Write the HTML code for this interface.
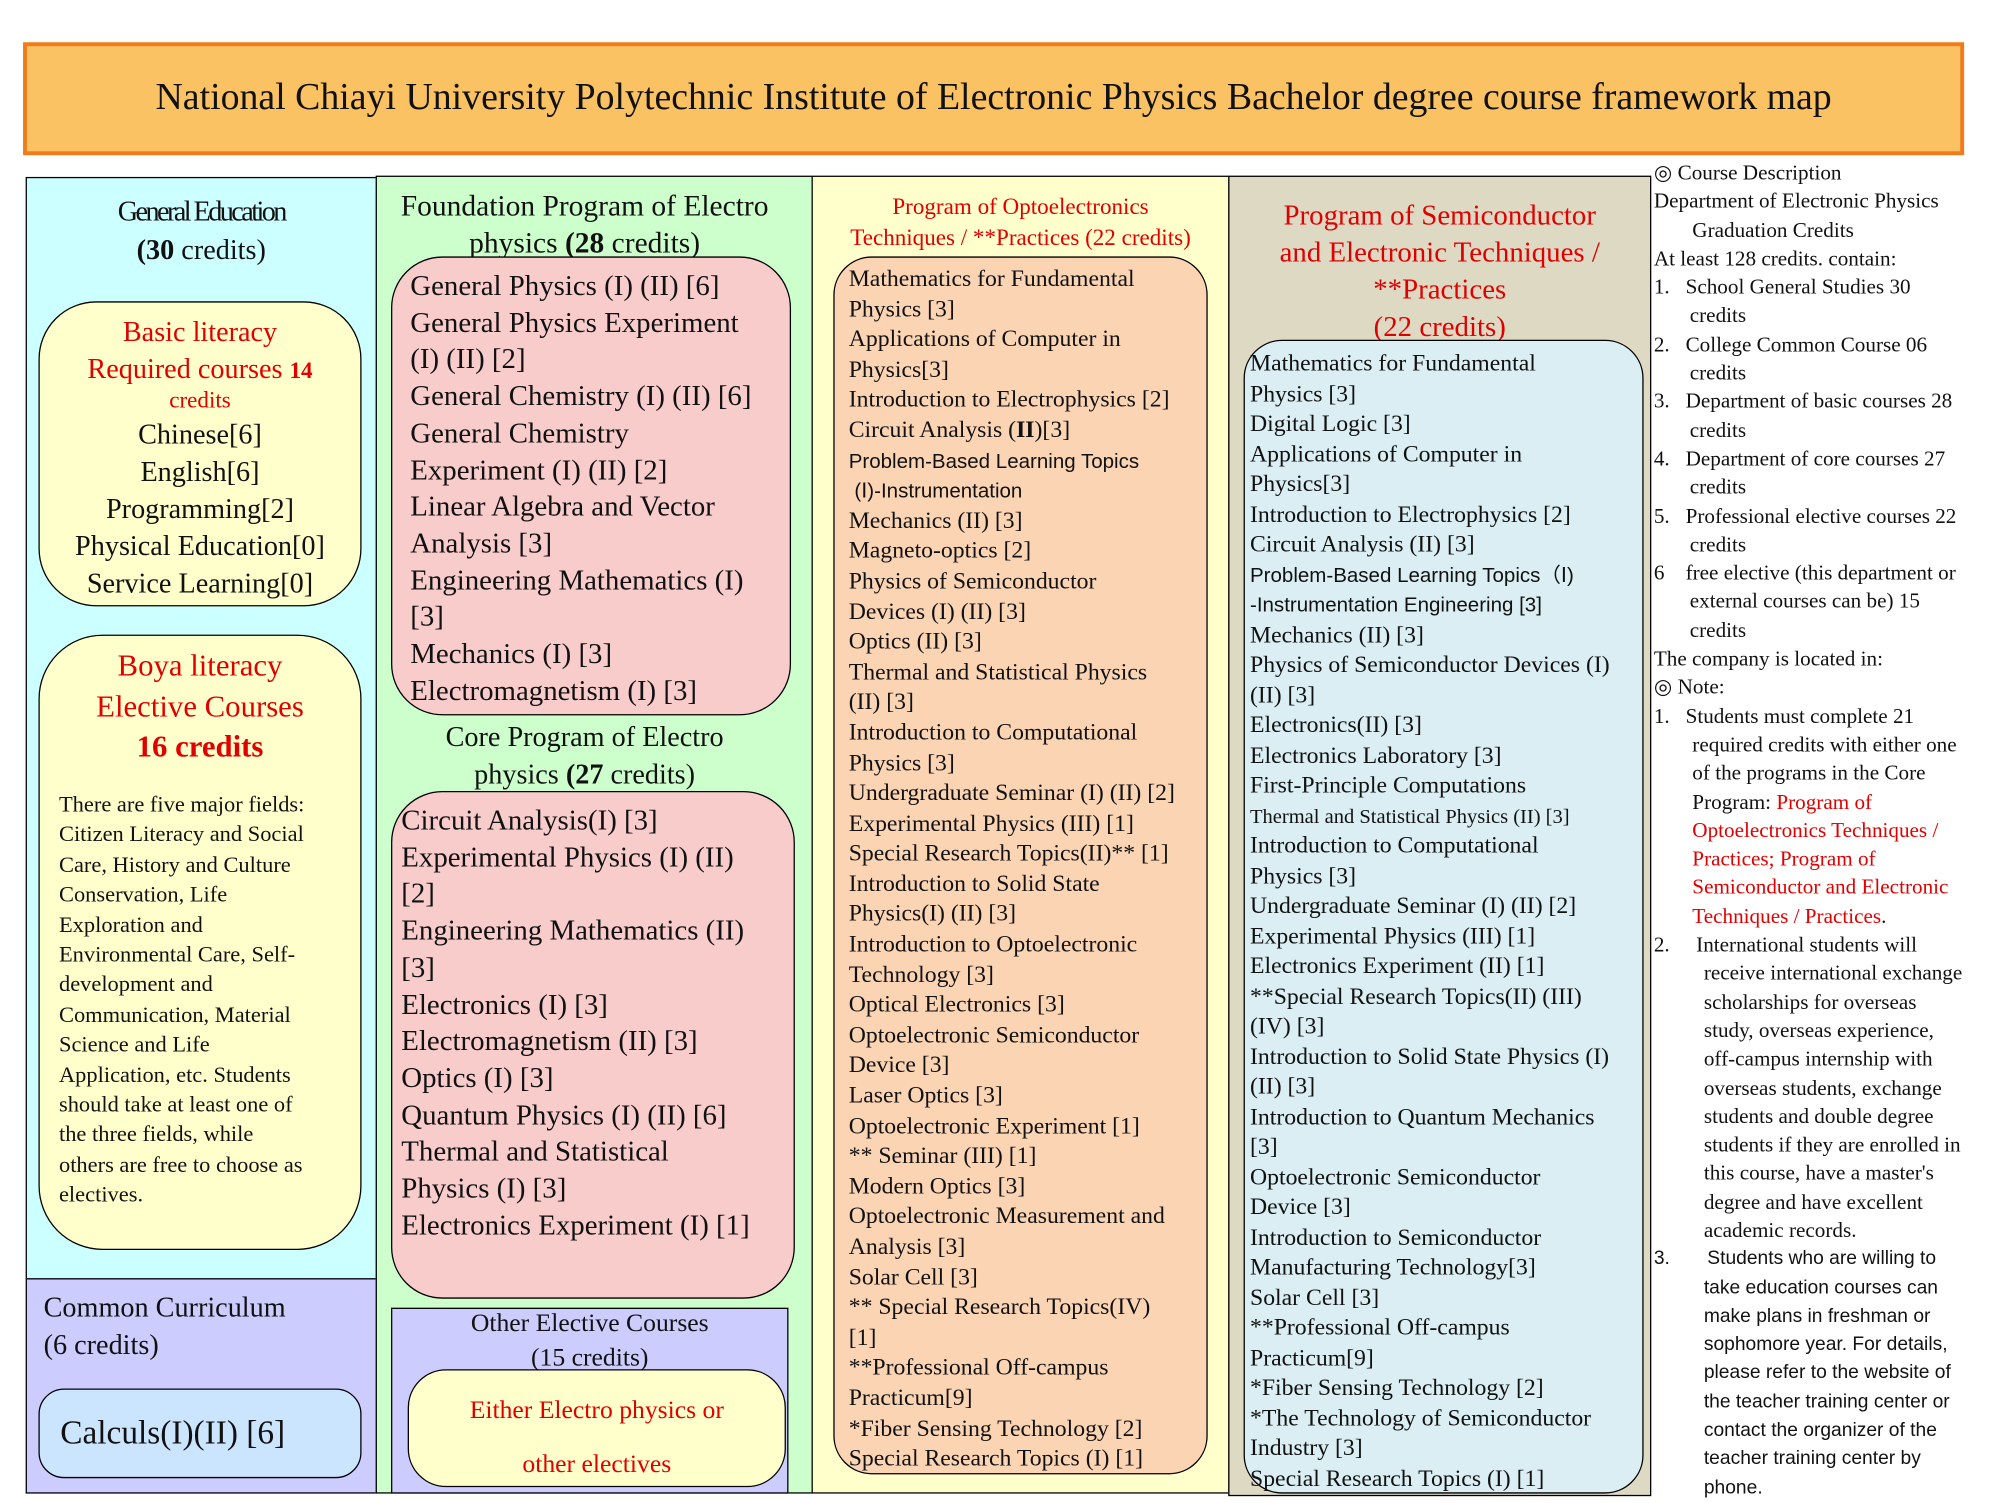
<!DOCTYPE html>
<html><head><meta charset="utf-8"><style>
*{margin:0;padding:0;box-sizing:border-box}
body{width:2000px;height:1500px;background:#fff;overflow:hidden;font-family:"Liberation Serif",serif;color:#111}
#w{position:absolute;left:0;top:0;width:1560px;height:1170px;transform:scale(1.28205);transform-origin:0 0}
.a{position:absolute}
.r{color:#e00000}
.l{white-space:nowrap}
.sans{font-family:"Liberation Sans",sans-serif}
</style></head><body><div id="w">
<div class="a" style="left:18px;top:33px;width:1514px;height:88px;background:#fac262;border:3px solid #f07a1c;font-size:29.5px;text-align:center;line-height:80px">National Chiayi University Polytechnic Institute of Electronic Physics Bachelor degree course framework map</div>

<div class="a" style="left:20px;top:138px;width:274px;height:860px;background:#ccffff;border:1.5px solid #000"></div>
<div class="a" style="left:20px;top:997px;width:274px;height:168px;background:#ccccff;border:1.5px solid #000"></div>
<div class="a" style="left:293px;top:137px;width:341px;height:1028px;background:#ccffcc;border:1.5px solid #000"></div>
<div class="a" style="left:633px;top:137px;width:326px;height:1028px;background:#ffffcc;border:1.5px solid #000"></div>
<div class="a" style="left:958px;top:137px;width:330px;height:1030px;background:#ddd9c3;border:1.5px solid #000"></div>

<div class="a" style="left:20px;top:150px;width:274px;text-align:center;font-size:22px;line-height:30px"><span style="letter-spacing:-2px">General Education</span><br><b>(30</b> credits)</div>
<div class="a" style="left:30px;top:235px;width:252px;height:238px;background:#ffffcc;border:1.5px solid #000;border-radius:45px"></div>
<div class="a l" style="left:30px;top:244px;width:252px;text-align:center;font-size:22px;line-height:29px">
<div class="r" style="height:29px">Basic literacy</div>
<div class="r" style="height:27px">Required courses <b style="font-size:18px">14</b></div>
<div class="r" style="font-size:18px;line-height:24px;height:24px">credits</div>
<div>Chinese[6]</div><div>English[6]</div><div>Programming[2]</div><div>Physical Education[0]</div><div>Service Learning[0]</div></div>
<div class="a" style="left:30px;top:495px;width:252px;height:480px;background:#ffffcc;border:1.5px solid #000;border-radius:50px"></div>
<div class="a l r" style="left:30px;top:505px;width:252px;text-align:center;font-size:24px;line-height:31.5px">Boya literacy<br>Elective Courses<br><b>16 credits</b></div>
<div class="a l" style="left:46px;top:616px;font-size:17.5px;line-height:23.4px">There are five major fields:<br>Citizen Literacy and Social<br>Care, History and Culture<br>Conservation, Life<br>Exploration and<br>Environmental Care, Self-<br>development and<br>Communication, Material<br>Science and Life<br>Application, etc. Students<br>should take at least one of<br>the three fields, while<br>others are free to choose as<br>electives.</div>
<div class="a l" style="left:34px;top:1005px;font-size:22px;line-height:29px">Common Curriculum<br>(6 credits)</div>
<div class="a" style="left:30px;top:1083px;width:252px;height:70px;background:#cce5ff;border:1.5px solid #000;border-radius:20px;font-size:26px;line-height:68px;padding-left:16px">Calculs(I)(II) [6]</div>

<div class="a l" style="left:293px;top:146px;width:326px;text-align:center;font-size:23px;line-height:29px">Foundation Program of Electro<br>physics <b>(28</b> credits)</div>
<div class="a" style="left:305px;top:200px;width:312px;height:358px;background:#f9cccc;border:1.5px solid #000;border-radius:40px"></div>
<div class="a l" style="left:320px;top:209px;font-size:22.5px;line-height:28.7px">General Physics (I) (II) [6]<br>General Physics Experiment<br>(I) (II) [2]<br>General Chemistry (I) (II) [6]<br>General Chemistry<br>Experiment (I) (II) [2]<br>Linear Algebra and Vector<br>Analysis [3]<br>Engineering Mathematics (I)<br>[3]<br>Mechanics (I) [3]<br>Electromagnetism (I) [3]</div>
<div class="a l" style="left:293px;top:560px;width:326px;text-align:center;font-size:22px;line-height:29px">Core Program of Electro<br>physics <b>(27</b> credits)</div>
<div class="a" style="left:305px;top:617px;width:315px;height:396px;background:#f9cccc;border:1.5px solid #000;border-radius:40px"></div>
<div class="a l" style="left:313px;top:626px;font-size:22.5px;line-height:28.7px">Circuit Analysis(I) [3]<br>Experimental Physics (I) (II)<br>[2]<br>Engineering Mathematics (II)<br>[3]<br>Electronics (I) [3]<br>Electromagnetism (II) [3]<br>Optics (I) [3]<br>Quantum Physics (I) (II) [6]<br>Thermal and Statistical<br>Physics (I) [3]<br>Electronics Experiment (I) [1]</div>
<div class="a" style="left:305px;top:1020px;width:310px;height:145px;background:#ccccff;border:1.5px solid #000"></div>
<div class="a l" style="left:305px;top:1019px;width:310px;text-align:center;font-size:20px;line-height:27px">Other Elective Courses<br>(15 credits)</div>
<div class="a" style="left:318px;top:1068px;width:295px;height:92px;background:#ffffcc;border:1.5px solid #000;border-radius:30px"></div>
<div class="a l r" style="left:318px;top:1079px;width:295px;text-align:center;font-size:20px;line-height:42px">Either Electro physics or<br>other electives</div>

<div class="a l r" style="left:633px;top:149px;width:326px;text-align:center;font-size:18px;line-height:24px">Program of Optoelectronics<br>Techniques / **Practices (22 credits)</div>
<div class="a" style="left:650px;top:200px;width:292px;height:950px;background:#fbd4b4;border:1.5px solid #000;border-radius:30px"></div>
<div class="a l" style="left:662px;top:207px;font-size:18.5px;line-height:23.6px">Mathematics for Fundamental<br>Physics [3]<br>Applications of Computer in<br>Physics[3]<br>Introduction to Electrophysics [2]<br>Circuit Analysis (<b>II</b>)[3]<br><span class="sans" style="font-size:16px">Problem-Based Learning Topics</span><br><span class="sans" style="font-size:16px">&nbsp;(Ⅰ)-Instrumentation</span><br>Mechanics (II) [3]<br>Magneto-optics [2]<br>Physics of Semiconductor<br>Devices (I) (II) [3]<br>Optics (II) [3]<br>Thermal and Statistical Physics<br>(II) [3]<br>Introduction to Computational<br>Physics [3]<br>Undergraduate Seminar (I) (II) [2]<br>Experimental Physics (III) [1]<br>Special Research Topics(II)** [1]<br>Introduction to Solid State<br>Physics(I) (II) [3]<br>Introduction to Optoelectronic<br>Technology [3]<br>Optical Electronics [3]<br>Optoelectronic Semiconductor<br>Device [3]<br>Laser Optics [3]<br>Optoelectronic Experiment [1]<br>** Seminar (III) [1]<br>Modern Optics [3]<br>Optoelectronic Measurement and<br>Analysis [3]<br>Solar Cell [3]<br>** Special Research Topics(IV)<br>[1]<br>**Professional Off-campus<br>Practicum[9]<br>*Fiber Sensing Technology [2]<br>Special Research Topics (I) [1]</div>

<div class="a l r" style="left:958px;top:153px;width:330px;text-align:center;font-size:22.5px;line-height:29px">Program of Semiconductor<br>and Electronic Techniques /<br>**Practices<br>(22 credits)</div>
<div class="a" style="left:970px;top:265px;width:312px;height:900px;background:#daeef3;border:1.5px solid #000;border-radius:30px"></div>
<div class="a l" style="left:975px;top:273px;font-size:18.5px;line-height:23.5px">Mathematics for Fundamental<br>Physics [3]<br>Digital Logic [3]<br>Applications of Computer in<br>Physics[3]<br>Introduction to Electrophysics [2]<br>Circuit Analysis (II) [3]<br><span class="sans" style="font-size:16px">Problem-Based Learning Topics（Ⅰ)</span><br><span class="sans" style="font-size:16px">-Instrumentation Engineering [3]</span><br>Mechanics (II) [3]<br>Physics of Semiconductor Devices (I)<br>(II) [3]<br>Electronics(II) [3]<br>Electronics Laboratory [3]<br>First-Principle Computations<br><span style="font-size:16px">Thermal and Statistical Physics (II) [3]</span><br>Introduction to Computational<br>Physics [3]<br>Undergraduate Seminar (I) (II) [2]<br>Experimental Physics (III) [1]<br>Electronics Experiment (II) [1]<br>**Special Research Topics(II) (III)<br>(IV) [3]<br>Introduction to Solid State Physics (I)<br>(II) [3]<br>Introduction to Quantum Mechanics<br>[3]<br>Optoelectronic Semiconductor<br>Device [3]<br>Introduction to Semiconductor<br>Manufacturing Technology[3]<br>Solar Cell [3]<br>**Professional Off-campus<br>Practicum[9]<br>*Fiber Sensing Technology [2]<br>*The Technology of Semiconductor<br>Industry [3]<br>Special Research Topics (I) [1]</div>

<div class="a l" style="left:1290px;top:124px;font-size:16.5px;line-height:22.3px">
<div>◎ Course Description</div>
<div>Department of Electronic Physics</div>
<div style="padding-left:30px">Graduation Credits</div>
<div>At least 128 credits. contain:</div>
<div>1.&nbsp;&nbsp; School General Studies 30</div><div style="padding-left:28px">credits</div>
<div>2.&nbsp;&nbsp; College Common Course 06</div><div style="padding-left:28px">credits</div>
<div>3.&nbsp;&nbsp; Department of basic courses 28</div><div style="padding-left:28px">credits</div>
<div>4.&nbsp;&nbsp; Department of core courses 27</div><div style="padding-left:28px">credits</div>
<div>5.&nbsp;&nbsp; Professional elective courses 22</div><div style="padding-left:28px">credits</div>
<div>6&nbsp;&nbsp;&nbsp; free elective (this department or</div><div style="padding-left:28px">external courses can be) 15</div><div style="padding-left:28px">credits</div>
<div>The company is located in:</div>
<div>◎ Note:</div>
<div>1.&nbsp;&nbsp; Students must complete 21</div>
<div style="padding-left:30px">required credits with either one</div>
<div style="padding-left:30px">of the programs in the Core</div>
<div style="padding-left:30px">Program: <span class="r">Program of</span></div>
<div style="padding-left:30px" class="r">Optoelectronics Techniques /</div>
<div style="padding-left:30px" class="r">Practices; Program of</div>
<div style="padding-left:30px" class="r">Semiconductor and Electronic</div>
<div style="padding-left:30px" class="r">Techniques / Practices<span style="color:#111">.</span></div>
<div>2.&nbsp;&nbsp;&nbsp;&nbsp; International students will</div>
<div style="padding-left:39px">receive international exchange</div>
<div style="padding-left:39px">scholarships for overseas</div>
<div style="padding-left:39px">study, overseas experience,</div>
<div style="padding-left:39px">off-campus internship with</div>
<div style="padding-left:39px">overseas students, exchange</div>
<div style="padding-left:39px">students and double degree</div>
<div style="padding-left:39px">students if they are enrolled in</div>
<div style="padding-left:39px">this course, have a master's</div>
<div style="padding-left:39px">degree and have excellent</div>
<div style="padding-left:39px">academic records.</div>
<div class="sans" style="font-size:15px">3.&nbsp;&nbsp;&nbsp;&nbsp;&nbsp;&nbsp; Students who are willing to</div>
<div class="sans" style="font-size:15px;padding-left:39px">take education courses can</div>
<div class="sans" style="font-size:15px;padding-left:39px">make plans in freshman or</div>
<div class="sans" style="font-size:15px;padding-left:39px">sophomore year. For details,</div>
<div class="sans" style="font-size:15px;padding-left:39px">please refer to the website of</div>
<div class="sans" style="font-size:15px;padding-left:39px">the teacher training center or</div>
<div class="sans" style="font-size:15px;padding-left:39px">contact the organizer of the</div>
<div class="sans" style="font-size:15px;padding-left:39px">teacher training center by</div>
<div class="sans" style="font-size:15px;padding-left:39px">phone.</div>
</div>
</div></body></html>
